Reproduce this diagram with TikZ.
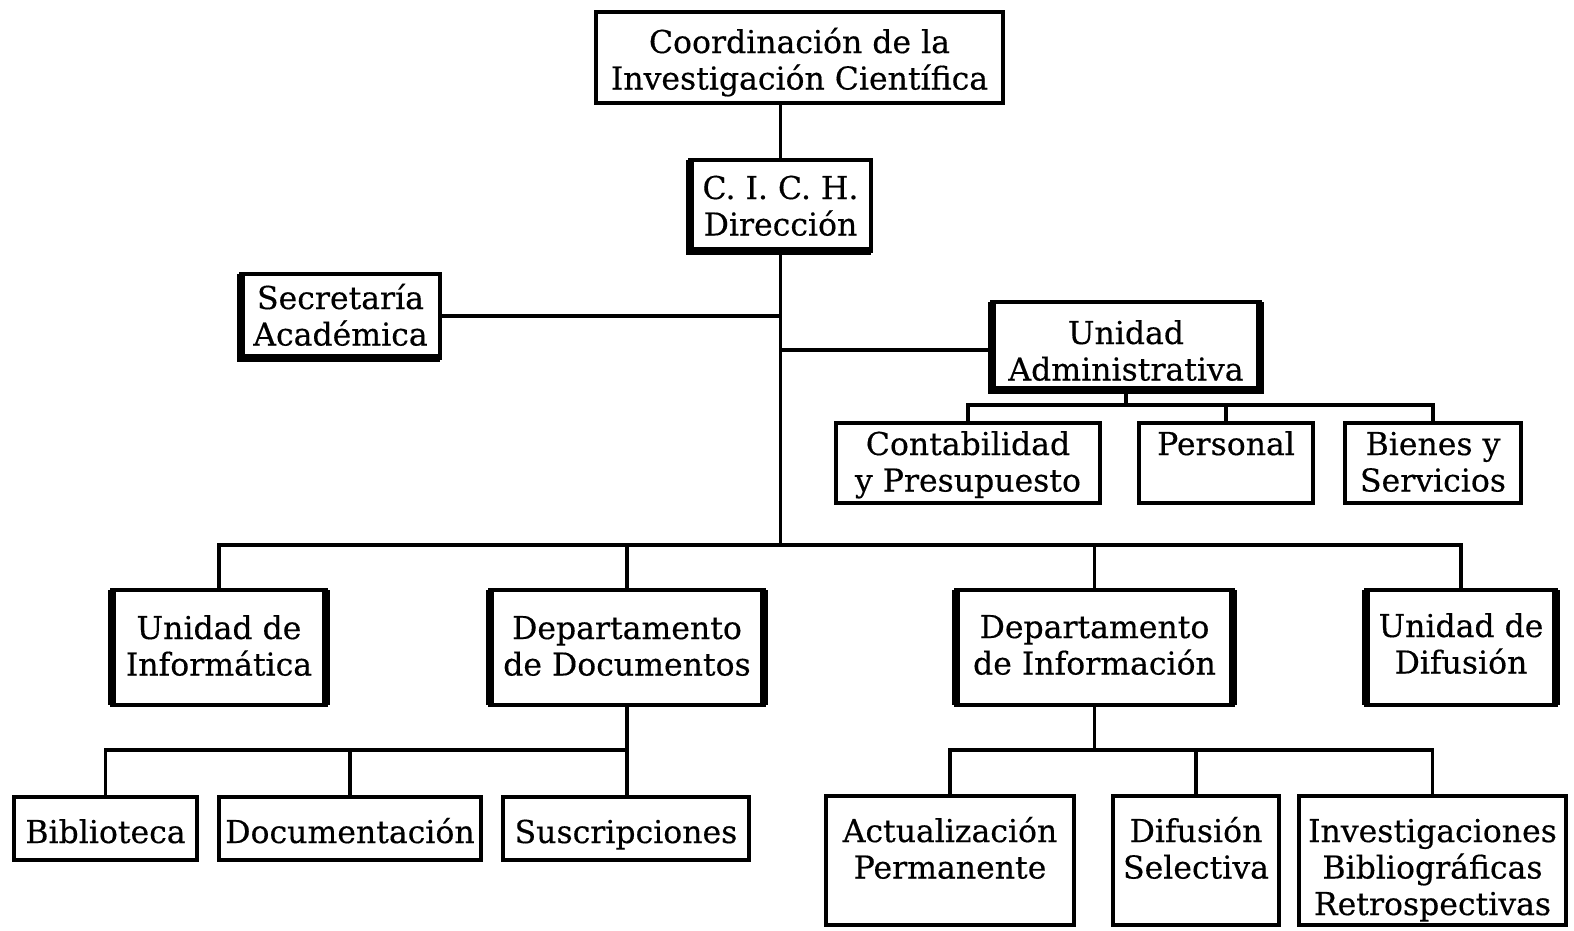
\documentclass[tikz,border=0pt]{standalone}
\usepackage{fontspec}
\setmainfont{DejaVu Serif}[FakeBold=0.4]
\begin{document}
\begin{tikzpicture}[x=1pt,y=-1pt,
  box/.style={draw, line width=3.2, inner xsep=0pt, inner ysep=0pt, outer sep=0pt,
    align=center, anchor=north, font=\fontsize{31.5}{36.5}\selectfont},
  conn/.style={line width=3.4},
  heavy/.style={line width=8, line join=miter}]
\useasboundingbox (0,0) rectangle (1574,930);
% nodes
\node[box, minimum width=407, text height=77.5, text depth=13.5] (coord) at (799.5,12) {Coordinación de la\\Investigación Científica};
\node[box, minimum width=181, text height=75.5, text depth=15.5] (cich) at (780.5,160) {C. I. C. H.\\Dirección};
\node[box, minimum width=199, text height=71.5, text depth=12.5] (sec) at (340.5,274) {Secretaría\\Académica};
\node[box, minimum width=268, text height=78.5, text depth=9.5] (ua) at (1126,302) {Unidad\\Administrativa};
\node[box, minimum width=264, text height=68.5, text depth=11.5] (cont) at (968,423) {Contabilidad\\y Presupuesto};
\node[box, minimum width=174, text height=32, text depth=48] (pers) at (1226,423) {Personal};
\node[box, minimum width=176, text height=68.5, text depth=11.5] (bien) at (1433,423) {Bienes y\\Servicios};
\node[box, minimum width=214, text height=85.5, text depth=29.5] (uinf) at (219,590) {Unidad de\\Informática};
\node[box, minimum width=274, text height=85.5, text depth=29.5] (ddoc) at (627,590) {Departamento\\de Documentos};
\node[box, minimum width=277, text height=84.5, text depth=30.5] (dinf) at (1094.5,590) {Departamento\\de Información};
\node[box, minimum width=190, text height=83.5, text depth=31.5] (udif) at (1461,590) {Unidad de\\Difusión};
\node[box, minimum width=183, text height=46, text depth=17] (bib) at (105.5,797) {Biblioteca};
\node[box, minimum width=262, text height=46, text depth=17] (docu) at (350,797) {Documentación};
\node[box, minimum width=246, text height=46, text depth=17] (susc) at (626,797) {Suscripciones};
\node[box, minimum width=248, text height=82.5, text depth=46.5] (act) at (950,796) {Actualización\\Permanente};
\node[box, minimum width=166, text height=82.5, text depth=46.5] (difs) at (1196,796) {Difusión\\Selectiva};
\node[box, minimum width=267, text height=119, text depth=10] (inv) at (1432.5,796) {Investigaciones\\Bibliográficas\\Retrospectivas};
% heavy sides
\draw[heavy] (cich.north west) -- (cich.south west) -- (cich.south east);
\draw[heavy] (sec.north west) -- (sec.south west) -- (sec.south east);
\draw[heavy] (ua.north west) -- (ua.south west) -- (ua.south east) -- (ua.north east);
\foreach \n in {uinf,ddoc,dinf,udif}{
  \draw[heavy] (\n.north west) -- (\n.south west);
  \draw[heavy] (\n.north east) -- (\n.south east);
}
% bus coordinates
\coordinate (bus) at (779,545);
\coordinate (uaj) at (779,350);
\coordinate (uabus) at (1126,405);
\coordinate (docbus) at (627,750);
\coordinate (infbus) at (1092,750);
% connectors
\draw[conn] (cich.north) -- (cich.north |- coord.south);
\draw[conn] (cich.south) -- (cich.south |- bus);
\draw[conn] (sec.east) -- (sec.east -| cich.south);
\draw[conn] (uaj -| cich.south) -- (uaj -| ua.west);
\draw[conn] (ua.south) -- (uabus);
\draw[conn] (cont.north) |- (bien.north |- uabus) -- (bien.north);
\draw[conn] (pers.north) -- (pers.north |- uabus);
\draw[conn] (uinf.north) |- (udif.north |- bus) -- (udif.north);
\draw[conn] (ddoc.north) -- (ddoc.north |- bus);
\draw[conn] (dinf.north) -- (dinf.north |- bus);
\draw[conn] (ddoc.south) -- (docbus) -- (docbus |- susc.north);
\draw[conn] (bib.north) |- (docbus);
\draw[conn] (docu.north) -- (docu.north |- docbus);
\draw[conn] (dinf.south) -- (dinf.south |- infbus);
\draw[conn] (act.north) |- (inv.north |- infbus) -- (inv.north);
\draw[conn] (difs.north) -- (difs.north |- infbus);
\end{tikzpicture}
\end{document}
